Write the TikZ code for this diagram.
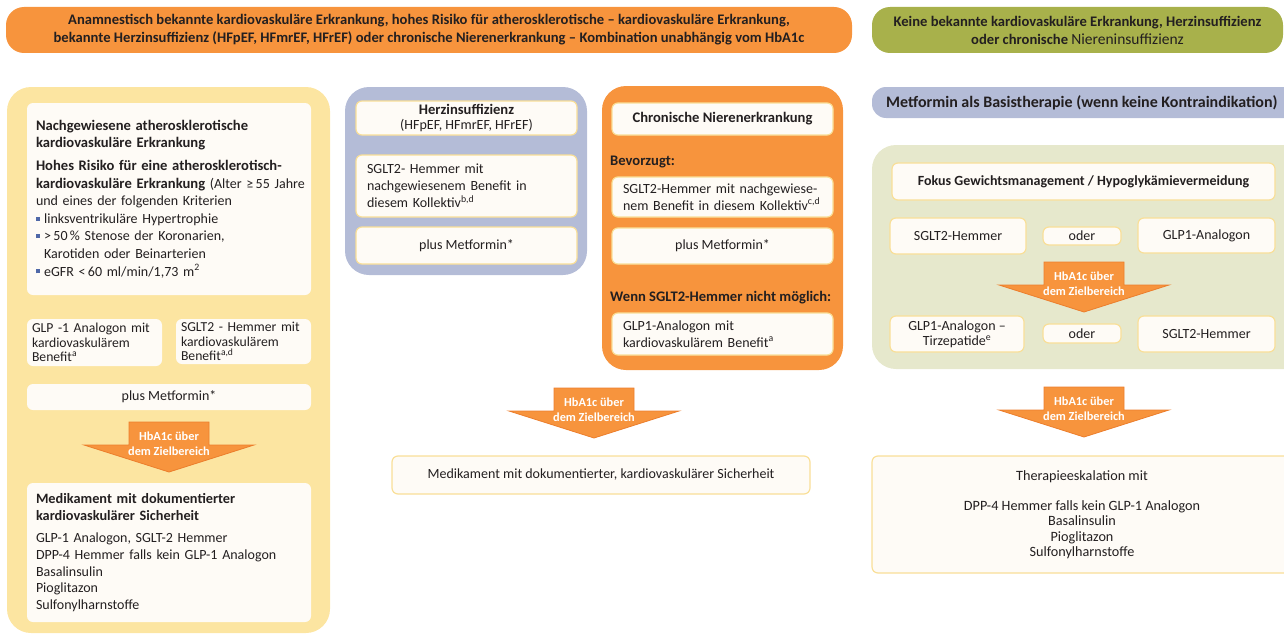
\documentclass[tikz,border=0pt]{standalone}
\usepackage{fontspec}
\setmainfont{Carlito}
\definecolor{kvorange}{HTML}{F7943D}
\definecolor{kvorangeline}{HTML}{EC7E2C}
\definecolor{kvyellow}{HTML}{FCE5A1}
\definecolor{kvblue}{HTML}{B4BCD7}
\definecolor{kvolive}{HTML}{A8B14B}
\definecolor{kvsage}{HTML}{E6E8CC}
\definecolor{boxfill}{HTML}{FEFBF6}
\definecolor{boxline}{HTML}{F9DF98}
\definecolor{kvtext}{HTML}{231F20}
\definecolor{bulletblue}{HTML}{4F68A8}
\newcommand{\sqbullet}{{\color{bulletblue}\rule[0.2em]{0.28em}{0.28em}}\hspace{0.3em}}
\newcommand{\hd}{\fontsize{14.6}{17}\selectfont\bfseries}

\begin{document}
\begin{tikzpicture}[x=1pt, y=-1pt, line join=round,
	every node/.style={text=kvtext},
	banner/.style={rounded corners=18pt, font=\fontsize{14.6}{18}\selectfont\bfseries, align=center, inner sep=0pt},
	wbox/.style={draw=boxline, fill=boxfill, line width=1.2pt, rounded corners=6pt, inner xsep=9pt, inner ysep=0pt,
		font=\fontsize{14}{16.8}\selectfont},
	plainbox/.style={wbox, draw=none},
	arrowshape/.style={fill=kvorange, draw=kvorangeline, line width=0.8pt, line join=miter},
	arrowtext/.style={text=white, font=\fontsize{12.3}{15}\selectfont\bfseries, align=center, inner sep=0pt},
	heading/.style={font=\hd, inner sep=0pt, anchor=west}]
	
	\useasboundingbox (0,0) rectangle (1284,634);
	
	% ===============================
	% ========== TOP BANNERS ========
	% ===============================
	\node[banner, fill=kvorange, minimum width=846pt, minimum height=46pt] (bannerkv) at (429,30)
	{Anamnestisch bekannte kardiovaskuläre Erkrankung, hohes Risiko für atherosklerotische – kardiovaskuläre Erkrankung,\\
		bekannte Herzinsuffizienz (HFpEF, HFmrEF, HFrEF) oder chronische Nierenerkrankung – Kombination unabhängig vom HbA1c};
	\node[banner, fill=kvolive, minimum width=411pt, minimum height=46pt] (bannerkeine) at (1077.5,30)
	{Keine bekannte kardiovaskuläre Erkrankung, Herzinsuffizienz\\
		oder chronische {\fontsize{15.5}{18}\selectfont\mdseries Niereninsuffizienz}};
	
	% ---- panels ----
	\fill[kvyellow, rounded corners=24pt] (7,87) rectangle (330,633);
	\fill[kvblue, rounded corners=24pt] (345,87) rectangle (587,275);
	\fill[kvorange, rounded corners=24pt] (602,86) rectangle (843,370);
	\fill[kvblue, rounded corners=14pt] (872,87) rectangle (1310,118);
	\fill[kvsage, rounded corners=24pt] (872,145) rectangle (1310,369);
	
	% ===============================
	% ===== LEFT: atherosklerose ====
	% ===============================
	\node[plainbox, minimum height=192pt, text width=266pt, align=left,
	font=\fontsize{14}{17.6}\selectfont] (athero) at (169,199)
	{{\hd Nachgewiesene atherosklerotische\\ kardiovaskuläre Erkrankung}\\[5pt]
		{\hd Hohes Risiko für eine atherosklerotisch-}\\
		\mbox{{\hd kardiovaskuläre Erkrankung} (Alter ≥\,55 Jahre}\\
		und eines der folgenden Kriterien\\
		\sqbullet linksventrikuläre Hypertrophie\\
		\sqbullet >\,50\,\% Stenose der Koronarien,\\
		\hphantom{\sqbullet}Karotiden oder Beinarterien\\
		\sqbullet eGFR <\,60 ml/min/1,73 m\textsuperscript{2}};
	
	\node[plainbox, inner xsep=5pt, minimum height=47pt, text width=125pt, align=left,
	font=\fontsize{13.7}{14.5}\selectfont] (glpL) at (94.5,342.5)
	{GLP -1 Analogon mit\\ kardiovaskulärem\\ Benefit\textsuperscript{a}};
	\node[plainbox, inner xsep=5pt, minimum height=45pt, text width=125pt, align=left,
	font=\fontsize{13.7}{14.5}\selectfont] (sgltL) at (243.5,341.5)
	{SGLT2 - Hemmer mit\\ kardiovaskulärem\\ Benefit\textsuperscript{a,d}};
	\node[plainbox, minimum width=284pt, minimum height=26pt] (metL) at (169,397) {plus Metformin*};
	
	\node[plainbox, minimum height=139pt, text width=266pt, align=left,
	font=\fontsize{14}{16.6}\selectfont] (sicherL) at (169,552.5)
	{{\fontsize{14.3}{16.6}\selectfont\bfseries Medikament mit dokumentierter\\ kardiovaskulärer Sicherheit}\\[6pt]
		GLP-1 Analogon, SGLT-2 Hemmer\\
		DPP-4 Hemmer falls kein GLP-1 Analogon\\
		Basalinsulin\\
		Pioglitazon\\
		Sulfonylharnstoffe};
	
	% ===============================
	% ===== MIDDLE: Herz / Niere ====
	% ===============================
	\node[wbox, minimum width=221pt, minimum height=34pt, align=center,
	font=\fontsize{14}{15}\selectfont] (herz) at (466.5,118)
	{{\hd Herzinsuffizienz}\\ (HFpEF, HFmrEF, HFrEF)};
	\node[wbox, inner xsep=11pt, minimum height=62pt, text width=199pt, align=left] (sgltH) at (466.5,186)
	{SGLT2- Hemmer mit\\ nachgewiesenem Benefit in\\ diesem Kollektiv\textsuperscript{b,d}};
	\node[wbox, minimum width=221pt, minimum height=37pt] (metH) at (466.5,245.5) {plus Metformin*};
	
	\node[wbox, minimum width=221pt, minimum height=32pt, font=\hd] (niere) at (722.5,119)
	{Chronische Nierenerkrankung};
	\node[heading] (bevorzugt) at (610,162) {Bevorzugt:};
	\node[wbox, inner xsep=11pt, minimum height=40pt, text width=199pt, align=left] (sgltN) at (722.5,197)
	{\mbox{SGLT2-Hemmer mit nachgewiese-}\\ \mbox{nem Benefit in diesem Kollektiv\textsuperscript{c,d}}};
	\node[wbox, minimum width=221pt, minimum height=36pt] (metN) at (722.5,246) {plus Metformin*};
	\node[heading] (wenn) at (610,298) {Wenn SGLT2-Hemmer nicht möglich:};
	\node[wbox, inner xsep=11pt, minimum height=42pt, text width=199pt, align=left] (glpN) at (722.5,334)
	{GLP1-Analogon mit\\ kardiovaskulärem Benefit\textsuperscript{a}};
	
	\node[wbox, minimum width=418pt, minimum height=38pt] (sicherM) at (601,475)
	{Medikament mit dokumentierter, kardiovaskulärer Sicherheit};
	
	% ===============================
	% ===== RIGHT: keine Erkrankung =
	% ===============================
	\node[heading, font=\fontsize{16}{18}\selectfont\bfseries] (metformin) at (886,102.5)
	{Metformin als Basistherapie (wenn keine Kontraindikation)};
	\node[wbox, minimum width=383pt, minimum height=37pt, font=\fontsize{14}{16}\selectfont\bfseries] (fokus) at (1083.5,181.5)
	{Fokus Gewichtsmanagement / Hypoglykämievermeidung};
	
	\node[wbox, minimum width=136pt, minimum height=36pt] (sgltA) at (958,236) {SGLT2-Hemmer};
	\node[wbox, minimum width=78pt, minimum height=18pt] (oderA) at (1082,236) {oder};
	\node[wbox, minimum width=137pt, minimum height=35pt] (glpA) at (1206.5,235.5) {GLP1-Analogon};
	
	\node[wbox, minimum width=134pt, minimum height=36pt, align=center,
	font=\fontsize{14}{15}\selectfont] (glpB) at (957,334) {GLP1-Analogon –\\ Tirzepatide\textsuperscript{e}};
	\node[wbox, minimum width=78pt, minimum height=19pt] (oderB) at (1082,333.5) {oder};
	\node[wbox, minimum width=137pt, minimum height=36pt] (sgltB) at (1206.5,334) {SGLT2-Hemmer};
	
	\node[wbox, minimum width=420pt, minimum height=117pt, align=center,
	font=\fontsize{14.2}{15.3}\selectfont] (eskalation) at (1082,514.5)
	{Therapieeskalation mit\\[15pt]
		DPP-4 Hemmer falls kein GLP-1 Analogon\\
		Basalinsulin\\
		Pioglitazon\\
		Sulfonylharnstoffe};
	
	% ---- HbA1c arrows ----
	\foreach \ax/\ay/\an in {169/422/hbaL, 594/388/hbaM, 1084/262/hbaR, 1084/387/hbaT}{
		\draw[arrowshape] (\ax-40,\ay) -- (\ax+40,\ay) -- (\ax+40,\ay+23) -- (\ax+85,\ay+23)
		-- (\ax,\ay+50) -- (\ax-85,\ay+23) -- (\ax-40,\ay+23) -- cycle;
		\node[arrowtext] (\an) at (\ax,\ay+22) {HbA1c über\\dem Zielbereich};
	}
	
\end{tikzpicture}
\end{document}
